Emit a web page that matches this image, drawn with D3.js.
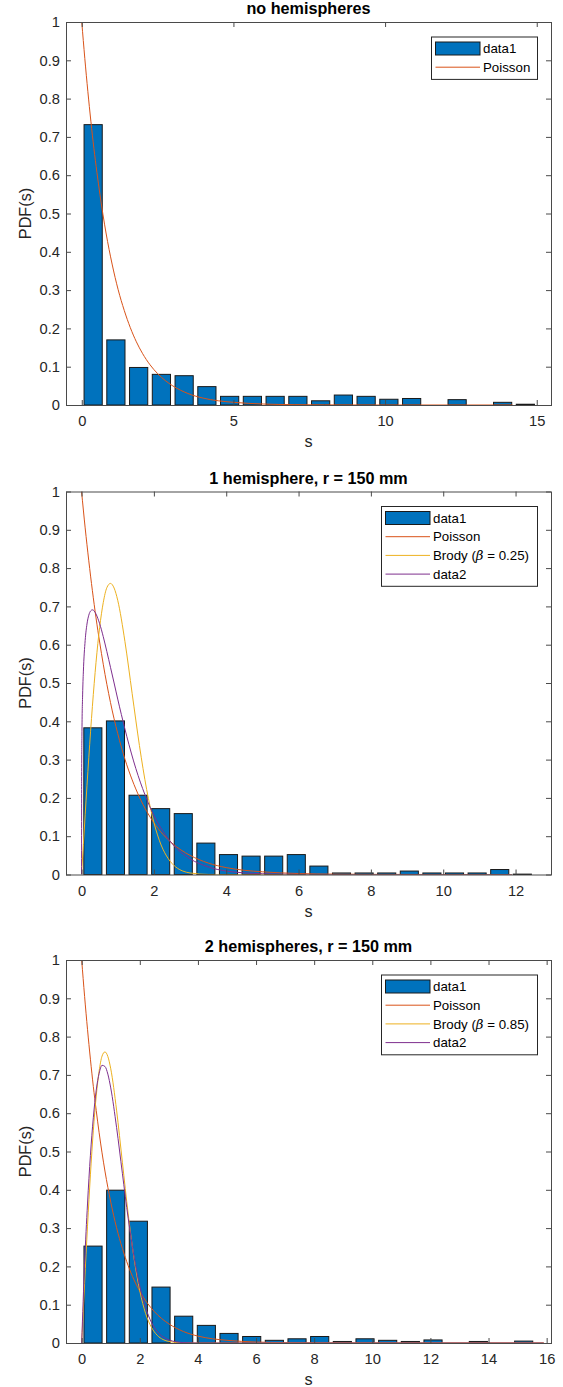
<!DOCTYPE html>
<html>
<head>
<meta charset="utf-8">
<title>Level spacing PDF</title>
<script src="https://cdn.jsdelivr.net/npm/d3@7"></script>
<style>
  body { margin: 0; background: #fff; }
  svg text { font-family: "Liberation Sans", Arial, sans-serif; fill: #262626; }
  .tick line { stroke: #4a4a4a; }
  .frame { fill: none; stroke: #4a4a4a; stroke-width: 1; }
</style>
</head>
<body>
<script>
// ---- panel 1: no hemispheres ----
var p1Centers = [0.375, 1.125, 1.875, 2.625, 3.375, 4.125, 4.875, 5.625, 6.375, 7.125,
                 7.875, 8.625, 9.375, 10.125, 10.875, 11.625, 12.375, 13.125, 13.875, 14.625];
var p1Heights = [0.732, 0.170, 0.098, 0.080, 0.0765, 0.048, 0.0226, 0.0226, 0.0226, 0.0226,
                 0.011, 0.026, 0.0226, 0.015, 0.017, 0, 0.014, 0, 0.007, 0.002];

// ---- panel 2: 1 hemisphere ----
var p2Centers = [0.3125, 0.9375, 1.5625, 2.1875, 2.8125, 3.4375, 4.0625, 4.6875, 5.3125, 5.9375,
                 6.5625, 7.1875, 7.8125, 8.4375, 9.0625, 9.6875, 10.3125, 10.9375, 11.5625, 12.1875];
var p2Heights = [0.383, 0.401, 0.207, 0.172, 0.159, 0.082, 0.052, 0.048, 0.048, 0.052,
                 0.022, 0.004, 0.004, 0.004, 0.009, 0.004, 0.004, 0.004, 0.013, 0.001];

// ---- panel 3: 2 hemispheres ----
var p3Centers = [0.39, 1.17, 1.95, 2.73, 3.51, 4.29, 5.07, 5.85, 6.63, 7.41,
                 8.19, 8.97, 9.75, 10.53, 11.31, 12.09, 12.87, 13.65, 14.43, 15.21];
var p3Heights = [0.253, 0.399, 0.318, 0.146, 0.070, 0.046, 0.025, 0.017, 0.007, 0.011,
                 0.017, 0.004, 0.011, 0.007, 0.004, 0.008, 0, 0.004, 0, 0.005];

// curves
var poissonS = [0, 0.1, 0.2, 0.3, 0.4, 0.5, 0.6, 0.8, 1.0, 1.2, 1.4, 1.6, 1.8, 2.0, 2.25, 2.5,
                2.75, 3.0, 3.5, 4.0, 4.5, 5, 6, 7, 8, 10];
var poissonP = [1, 0.905, 0.819, 0.741, 0.670, 0.607, 0.549, 0.449, 0.368, 0.301, 0.247, 0.202,
                0.165, 0.135, 0.105, 0.082, 0.064, 0.050, 0.030, 0.018, 0.011, 0.007, 0.0025,
                0.0009, 0.0003, 0];

var wignerS = [0, 0.1, 0.2, 0.3, 0.4, 0.5, 0.6, 0.7, 0.8, 0.9, 1.0, 1.2, 1.4, 1.6, 1.8, 2.0,
               2.2, 2.4, 2.6, 2.8, 3.0, 3.5, 4.0];
var wignerP = [0, 0.156, 0.305, 0.439, 0.554, 0.645, 0.710, 0.749, 0.760, 0.748, 0.716, 0.608,
               0.472, 0.337, 0.222, 0.136, 0.077, 0.041, 0.020, 0.009, 0.004, 0.0002, 0];

var brody25S = [0, 0.002, 0.01, 0.03, 0.05, 0.1, 0.15, 0.2, 0.25, 0.3, 0.35, 0.4, 0.5, 0.6, 0.7,
                0.8, 0.9, 1.0, 1.1, 1.25, 1.5, 1.75, 2.0, 2.25, 2.5, 3.0, 3.5, 4.0, 5.0, 6.0, 7.0];
var brody25P = [0, 0.242, 0.361, 0.471, 0.529, 0.611, 0.654, 0.677, 0.688, 0.691, 0.688, 0.680,
                0.655, 0.621, 0.582, 0.541, 0.500, 0.458, 0.418, 0.361, 0.277, 0.209, 0.154,
                0.113, 0.081, 0.041, 0.020, 0.009, 0.002, 0.0003, 0];

var brody85S = [0, 0.1, 0.2, 0.3, 0.4, 0.5, 0.6, 0.7, 0.8, 0.9, 1.0, 1.2, 1.4, 1.6, 1.8, 2.0,
                2.2, 2.4, 2.6, 2.8, 3.0, 3.5, 4.0];
var brody85P = [0, 0.208, 0.363, 0.490, 0.588, 0.660, 0.704, 0.725, 0.722, 0.702, 0.666, 0.563,
                0.443, 0.326, 0.226, 0.148, 0.092, 0.054, 0.030, 0.016, 0.008, 0.001, 0];

var yTicks = [0, 0.1, 0.2, 0.3, 0.4, 0.5, 0.6, 0.7, 0.8, 0.9, 1];
var yTickLabels = ["0", "0.1", "0.2", "0.3", "0.4", "0.5", "0.6", "0.7", "0.8", "0.9", "1"];

var colBar = "#0072BD", colPoisson = "#D95319", colBrody = "#EDB120", colData2 = "#7E2F8E";

var panels = [
  { title: "no hemispheres", top: 22, xDomain: [-0.52, 15.47], xTicks: [0, 5, 10, 15],
    centers: p1Centers, heights: p1Heights, sMax: 14.2,
    lines: [{ s: poissonS, p: poissonP, color: colPoisson }],
    legend: [{ type: "bar", label: "data1" }, { type: "line", label: "Poisson", color: colPoisson }] },
  { title: "1 hemisphere, r = 150 mm", top: 491.5, xDomain: [-0.43, 12.98], xTicks: [0, 2, 4, 6, 8, 10, 12],
    centers: p2Centers, heights: p2Heights, sMax: 11.9,
    lines: [{ s: poissonS, p: poissonP, color: colPoisson },
            { s: wignerS, p: wignerP, color: colBrody },
            { s: brody25S, p: brody25P, color: colData2 }],
    legend: [{ type: "bar", label: "data1" }, { type: "line", label: "Poisson", color: colPoisson },
             { type: "line", label: "Brody (", beta: "0.25)", color: colBrody },
             { type: "line", label: "data2", color: colData2 }] },
  { title: "2 hemispheres, r = 150 mm", top: 960, xDomain: [-0.54, 16.15], xTicks: [0, 2, 4, 6, 8, 10, 12, 14, 16],
    centers: p3Centers, heights: p3Heights, sMax: 15.9,
    lines: [{ s: poissonS, p: poissonP, color: colPoisson },
            { s: wignerS, p: wignerP, color: colBrody },
            { s: brody85S, p: brody85P, color: colData2 }],
    legend: [{ type: "bar", label: "data1" }, { type: "line", label: "Poisson", color: colPoisson },
             { type: "line", label: "Brody (", beta: "0.85)", color: colBrody },
             { type: "line", label: "data2", color: colData2 }] }
];

var left = 66, right = 551, plotH = 383;

var svg = d3.select("body").append("svg")
    .attr("width", 563)
    .attr("height", 1387);

panels.forEach(function(cfg, pi) {
  var x = d3.scaleLinear().domain(cfg.xDomain).range([left, right]);
  var y = d3.scaleLinear().domain([0, 1]).range([cfg.top + plotH, cfg.top]);
  var g = svg.append("g");

  var clipId = "clip" + pi;
  svg.append("clipPath").attr("id", clipId)
    .append("rect").attr("x", left).attr("y", cfg.top).attr("width", right - left).attr("height", plotH);

  // bars
  var bw = (cfg.centers[1] - cfg.centers[0]) * 0.8;
  var bars = cfg.centers.map(function(c, i) { return { c: c, h: cfg.heights[i] }; });
  g.append("g").selectAll("rect")
    .data(bars)
    .enter().append("rect")
      .attr("x", d => x(d.c - bw / 2))
      .attr("width", d => x(d.c + bw / 2) - x(d.c - bw / 2))
      .attr("y", d => y(d.h))
      .attr("height", d => y(0) - y(d.h))
      .attr("fill", colBar)
      .attr("stroke", "#1a1a1a")
      .attr("stroke-width", 1);

  // curves
  var lg = g.append("g").attr("clip-path", "url(#" + clipId + ")");
  cfg.lines.forEach(function(ln) {
    var pts = ln.s.map(function(s, i) { return [s, ln.p[i]]; });
    pts.push([cfg.sMax, 0]);
    lg.append("path")
      .datum(pts)
      .attr("fill", "none")
      .attr("stroke", ln.color)
      .attr("stroke-width", 1)
      .attr("d", d3.line().x(d => x(d[0])).y(d => y(d[1])).curve(d3.curveMonotoneX));
  });

  // axes (inward ticks on all four sides)
  var axB = d3.axisBottom(x).tickValues(cfg.xTicks).tickFormat(d3.format("d"))
      .tickSizeInner(-5).tickSizeOuter(0).tickPadding(11);
  var axT = d3.axisTop(x).tickValues(cfg.xTicks).tickFormat("").tickSizeInner(-5).tickSizeOuter(0);
  var axL = d3.axisLeft(y).tickValues(yTicks).tickFormat((d, i) => yTickLabels[i])
      .tickSizeInner(-5).tickSizeOuter(0).tickPadding(6);
  var axR = d3.axisRight(y).tickValues(yTicks).tickFormat("").tickSizeInner(-5).tickSizeOuter(0);

  [[axB, "translate(0," + (cfg.top + plotH) + ")"], [axT, "translate(0," + cfg.top + ")"],
   [axL, "translate(" + left + ",0)"], [axR, "translate(" + right + ",0)"]].forEach(function(a) {
    var ag = g.append("g").attr("transform", a[1]).call(a[0]);
    ag.select(".domain").remove();
    ag.selectAll("text").style("font-size", "14.7px").attr("fill", "#262626");
  });

  g.append("rect").attr("class", "frame")
    .attr("x", left + 0.5).attr("y", cfg.top + 0.5)
    .attr("width", right - left).attr("height", plotH);

  // title and labels
  g.append("text")
    .attr("x", (left + right) / 2).attr("y", cfg.top - 8)
    .attr("text-anchor", "middle")
    .style("font-size", "16.2px").style("font-weight", "bold")
    .style("fill", "#000")
    .text(cfg.title);

  g.append("text")
    .attr("x", (left + right) / 2).attr("y", cfg.top + plotH + 42)
    .attr("text-anchor", "middle")
    .style("font-size", "16.2px")
    .text("s");

  g.append("text")
    .attr("transform", "translate(31," + (cfg.top + plotH / 2) + ") rotate(-90)")
    .attr("text-anchor", "middle")
    .style("font-size", "16.2px")
    .text("PDF(s)");

  // legend
  var rowH = 18.7, legL = 381, legR = 537;
  if (cfg.legend.length === 2) legL = 431;
  var legTop = cfg.top + 14.5;
  var leg = g.append("g");
  leg.append("rect")
    .attr("x", legL + 0.5).attr("y", legTop + 0.5)
    .attr("width", legR - legL).attr("height", rowH * cfg.legend.length + 5)
    .attr("fill", "#fff").attr("stroke", "#262626");
  cfg.legend.forEach(function(it, i) {
    var cy = legTop + 12 + i * rowH;
    var x0 = legL + 4.5, x1 = legL + 49;
    if (it.type === "bar") {
      leg.append("rect").attr("x", x0).attr("y", cy - 6.5)
        .attr("width", x1 - x0).attr("height", 13)
        .attr("fill", colBar).attr("stroke", "#1a1a1a");
    } else {
      leg.append("line").attr("x1", x0).attr("x2", x1).attr("y1", cy).attr("y2", cy)
        .attr("stroke", it.color).attr("stroke-width", 1);
    }
    var t = leg.append("text").attr("x", x1 + 3).attr("y", cy).attr("dy", "0.35em")
      .style("font-size", "13.3px").style("fill", "#000");
    t.append("tspan").text(it.label);
    if (it.beta) {
      t.append("tspan").style("font-style", "italic").style("font-family", "'DejaVu Serif', serif").text("\u03B2");
      t.append("tspan").text(" = " + it.beta);
    }
  });
});
</script>
</body>
</html>
